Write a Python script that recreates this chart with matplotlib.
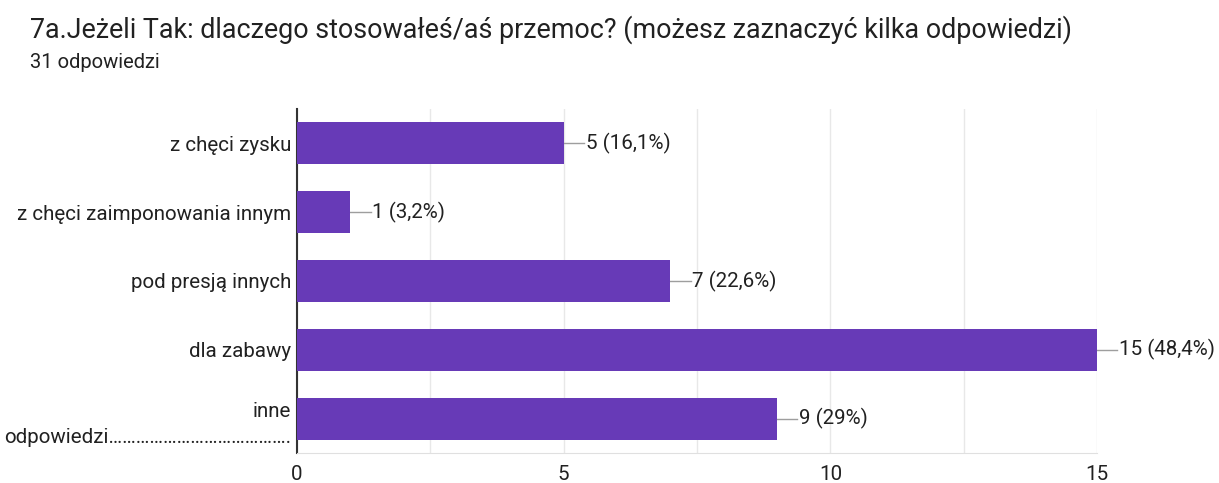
import matplotlib.pyplot as plt
import matplotlib.ticker as plticker

plt.rcParams['font.family'] = ['Roboto', 'DejaVu Sans']

# data
categories = ['z chęci zysku', 'z chęci zaimponowania innym', 'pod presją innych',
              'dla zabawy', 'inne\nodpowiedzi' + '…' * 13 + '.']
counts = [5, 1, 7, 15, 9]
pct_labels = ['5 (16,1%)', '1 (3,2%)', '7 (22,6%)', '15 (48,4%)', '9 (29%)']

bar_color = '#673AB7'
txt_color = '#212121'

fig = plt.figure(figsize=(12.19, 4.83), dpi=100)
ax = fig.add_axes([297 / 1219, 1 - 453 / 483, 800 / 1219, 344 / 483])

y = list(range(len(categories)))
ax.barh(y, counts, height=0.61, color=bar_color, zorder=3)
ax.set_ylim(len(categories) - 0.5, -0.5)
ax.set_xlim(0, 15)

# leader lines + value labels
for i, (c, lab) in enumerate(zip(counts, pct_labels)):
    ax.plot([c, c + 0.38], [i, i], color='#9e9e9e', lw=1, zorder=2, clip_on=False)
    ax.text(c + 0.41, i, lab, va='center', ha='left', fontsize=14.8, color=txt_color)

ax.set_yticks(y)
ax.set_yticklabels(categories, fontsize=14.8, color=txt_color, linespacing=1.5)
ax.xaxis.set_major_locator(plticker.MultipleLocator(5))
ax.xaxis.set_minor_locator(plticker.MultipleLocator(2.5))
ax.tick_params(axis='x', which='both', length=0, labelsize=14.8, labelcolor=txt_color, pad=9)
ax.tick_params(axis='y', length=0, pad=4)
ax.grid(axis='x', which='both', color='#e8e8e8', lw=1, zorder=0)

for s in ['top', 'right']:
    ax.spines[s].set_visible(False)
ax.spines['bottom'].set_color('#e0e0e0')
ax.spines['left'].set_color('#333333')
ax.spines['left'].set_linewidth(1.5)

fig.text(30 / 1219, 1 - 30 / 483, '7a.Jeżeli Tak: dlaczego stosowałeś/aś przemoc? (możesz zaznaczyć kilka odpowiedzi)',
         fontsize=19.4, color=txt_color, va='center', ha='left')
fig.text(30 / 1219, 1 - 62 / 483, '31 odpowiedzi', fontsize=14.5, color=txt_color, va='center', ha='left')

fig.savefig('out.png', dpi=100)
